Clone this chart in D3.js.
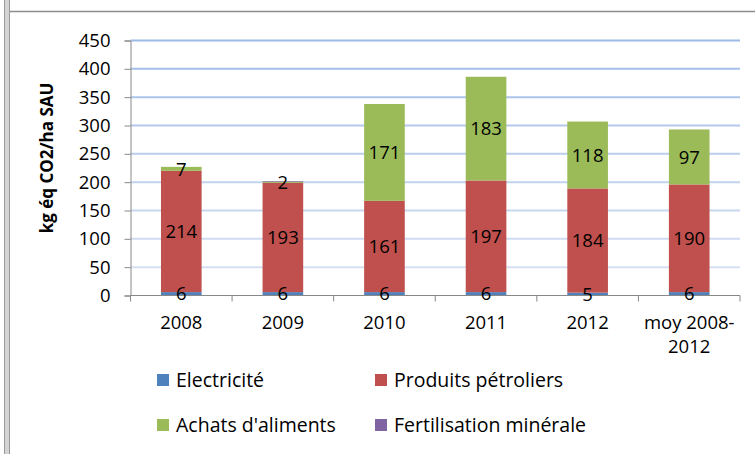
<!DOCTYPE html>
<html lang="fr">
<head>
<meta charset="UTF-8" />
<title>Emissions</title>
<style>
  body { margin: 0; background: #fff; }
  svg { display: block; font-family: 'Open Sans', sans-serif; }
</style>
</head>
<body>
<svg id="svg" width="755" height="454"></svg>
<script src="https://d3js.org/d3.v7.min.js"></script>
<script>
const categories = ['2008', '2009', '2010', '2011', '2012', 'moy 2008-2012'];
const seriesNames = ['Electricité', 'Produits pétroliers', "Achats d'aliments", 'Fertilisation minérale'];
const electricite = [6, 6, 6, 6, 5, 6];
const petroliers = [214, 193, 161, 197, 184, 190];
const aliments = [7, 2, 171, 183, 118, 97];
const fertilisation = [0, 1, 0, 0, 0, 0];
const yTicks = [0, 50, 100, 150, 200, 250, 300, 350, 400, 450];
const colors = ['#4f81bd', '#c0504d', '#9bbb59', '#8064a2'];

const svg = d3.select('#svg');

// frame bits from the original screenshot
svg.append('rect').attr('x', 4).attr('y', 0).attr('width', 6).attr('height', 454).attr('fill', '#d4d4d4');
svg.append('line').attr('x1', 4.5).attr('x2', 4.5).attr('y1', 0).attr('y2', 454).attr('stroke', '#999');
svg.append('line').attr('x1', 9.5).attr('x2', 9.5).attr('y1', 0).attr('y2', 454).attr('stroke', '#999');
svg.append('line').attr('x1', 10).attr('x2', 755).attr('y1', 11.5).attr('y2', 11.5).attr('stroke', '#8c8c8c').attr('stroke-width', 1.5);

const plotLeft = 130.5, plotRight = 740, plotTop = 40.5, plotBottom = 295.5;

const x = d3.scaleBand().domain(categories).range([plotLeft, plotRight]).paddingInner(0.6).paddingOuter(0.3);
const y = d3.scaleLinear().domain([0, 450]).range([plotBottom, plotTop]);
const gridColor = d3.scaleLinear().domain([50, 450]).range(['#d6e0f2', '#9ebae6']);

// gridlines
svg.append('g').selectAll('line')
  .data(yTicks.filter((t) => t > 0))
  .enter().append('line')
  .attr('x1', plotLeft).attr('x2', plotRight)
  .attr('y1', (d) => y(d)).attr('y2', (d) => y(d))
  .attr('stroke', (d) => gridColor(d))
  .attr('stroke-width', 2);

// stacked bars
const rows = categories.map((c, i) => ({
  cat: c,
  0: electricite[i], 1: petroliers[i], 2: aliments[i], 3: fertilisation[i]
}));
const stack = d3.stack().keys([0, 1, 2, 3])(rows);

const layers = svg.append('g').selectAll('g')
  .data(stack).enter().append('g')
  .attr('fill', (d, i) => colors[i]);
layers.selectAll('rect')
  .data((d) => d).enter().append('rect')
  .attr('x', (d) => x(d.data.cat))
  .attr('width', x.bandwidth())
  .attr('y', (d) => y(d[1]))
  .attr('height', (d) => y(d[0]) - y(d[1]));

// y axis
const yAxis = svg.append('g').attr('transform', `translate(${plotLeft},0)`)
  .call(d3.axisLeft(y).tickValues(yTicks).tickSize(6).tickPadding(14));
yAxis.select('.domain').attr('stroke', '#888');
yAxis.selectAll('.tick line').attr('stroke', '#888');
yAxis.selectAll('.tick text').attr('font-size', 18.5).attr('fill', '#000').attr('font-family', 'Open Sans');

// x axis
const xAxis = svg.append('g').attr('transform', `translate(0,${plotBottom})`);
xAxis.append('line').attr('x1', plotLeft).attr('x2', plotRight).attr('stroke', '#888');
const step = x.step();
xAxis.selectAll('line.tk')
  .data(d3.range(categories.length + 1)).enter().append('line')
  .attr('class', 'tk')
  .attr('x1', (d) => plotLeft + d * step).attr('x2', (d) => plotLeft + d * step)
  .attr('y1', 0).attr('y2', 6).attr('stroke', '#888');

const xLabels = [['2008'], ['2009'], ['2010'], ['2011'], ['2012'], ['moy 2008-', '2012']];
xAxis.selectAll('text.cat')
  .data(categories).enter().append('text')
  .attr('class', 'cat')
  .attr('x', (d) => x(d) + x.bandwidth() / 2)
  .attr('y', 33)
  .attr('text-anchor', 'middle')
  .attr('font-size', 18.5)
  .each(function (d, i) {
    d3.select(this).selectAll('tspan').data(xLabels[i]).enter().append('tspan')
      .attr('x', x(d) + x.bandwidth() / 2)
      .attr('dy', (t, j) => (j === 0 ? 0 : 24))
      .text((t) => t);
  });

// data labels
stack.slice(0, 3).forEach((layer) => {
  svg.append('g').selectAll('text')
    .data(layer).enter().append('text')
    .attr('x', (d) => x(d.data.cat) + x.bandwidth() / 2)
    .attr('y', (d) => (y(d[0]) + y(d[1])) / 2)
    .attr('dy', '0.36em')
    .attr('text-anchor', 'middle')
    .attr('font-size', 18.5)
    .text((d) => d[1] - d[0]);
});

// y title
svg.append('text')
  .attr('transform', 'translate(53,158) rotate(-90)')
  .attr('text-anchor', 'middle')
  .attr('font-size', 17)
  .attr('font-weight', 'bold')
  .text('kg éq CO2/ha SAU');

// legend
const legendPos = [[157, 380], [375, 380], [157, 425], [375, 425]];
const legend = svg.append('g').selectAll('g')
  .data(seriesNames).enter().append('g')
  .attr('transform', (d, i) => `translate(${legendPos[i][0]},${legendPos[i][1]})`);
legend.append('rect').attr('x', 0).attr('y', -6).attr('width', 12).attr('height', 12)
  .attr('fill', (d, i) => colors[i]);
legend.append('text').attr('x', 19).attr('dy', '0.36em').attr('font-size', 19.5).text((d) => d);
</script>
</body>
</html>
